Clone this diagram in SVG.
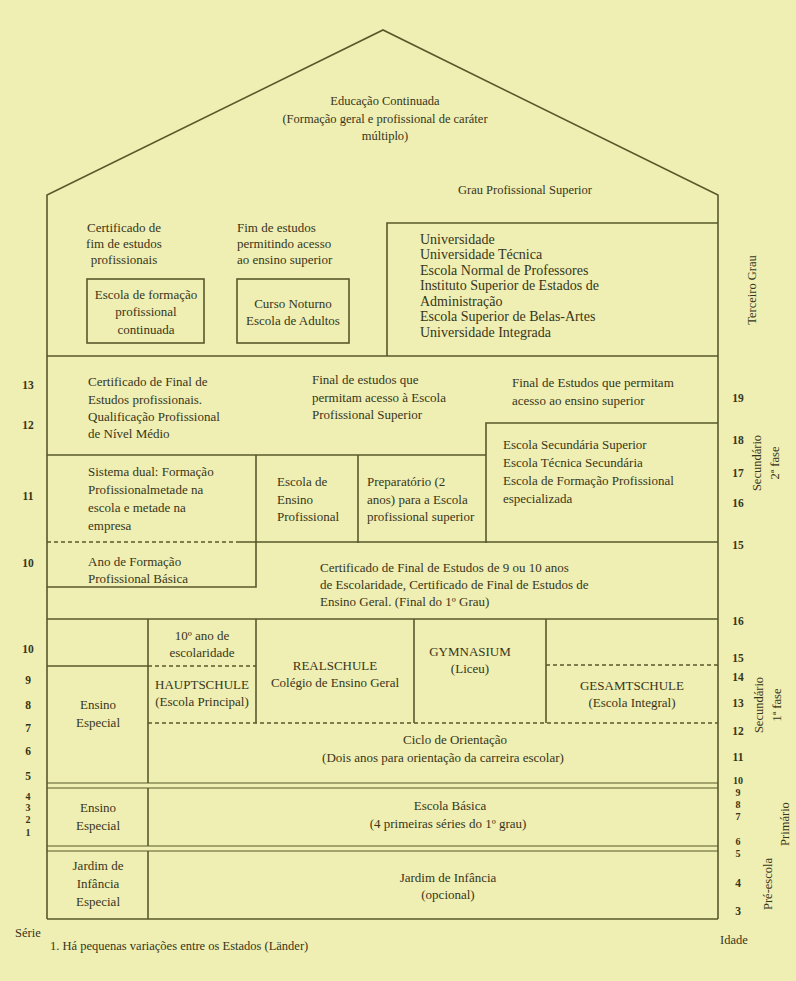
<svg xmlns="http://www.w3.org/2000/svg" width="796" height="981" viewBox="0 0 796 981">
<style>
.ln{stroke:#59582b;stroke-width:1.6;fill:none}
.th{stroke:#59582b;stroke-width:1.2;fill:none}
.ds{stroke:#59582b;stroke-width:1.3;fill:none;stroke-dasharray:4 3}
text{font-family:"Liberation Serif","Times New Roman",serif;fill:#37361a;font-size:13px}
.c{text-anchor:middle}
.n{font-size:11.5px;text-anchor:middle;font-weight:bold}
.m{font-size:10px}
.u{font-size:14px}
.s{font-size:12.5px}
</style>
<rect x="0" y="0" width="796" height="981" fill="#efeeb3"/>
<g id="structure">
<polyline class="ln" points="47,919 47,195 383,30 718,195 718,919"/>
<line class="ln" x1="47" y1="919" x2="718" y2="919"/>
<line class="ln" x1="47" y1="356" x2="718" y2="356"/>
<polyline class="ln" points="387,356 387,223 718,223"/>
<rect class="ln" x="87" y="279" width="117" height="64"/>
<rect class="ln" x="237" y="279" width="112" height="64"/>
<line class="ln" x1="47" y1="455" x2="486" y2="455"/>
<polyline class="ln" points="486,543 486,423 718,423"/>
<line class="ln" x1="256" y1="455" x2="256" y2="543"/>
<line class="ln" x1="358" y1="455" x2="358" y2="543"/>
<line class="ds" x1="47" y1="542" x2="238" y2="542"/>
<line class="ln" x1="238" y1="542" x2="718" y2="542"/>
<polyline class="ln" points="47,587 256,587 256,542"/>
<line class="ln" x1="47" y1="619" x2="718" y2="619"/>
<line class="ln" x1="148" y1="619" x2="148" y2="783"/>
<line class="ln" x1="256" y1="619" x2="256" y2="723"/>
<line class="ln" x1="414" y1="619" x2="414" y2="723"/>
<line class="ln" x1="546" y1="619" x2="546" y2="723"/>
<line class="ln" x1="47" y1="666" x2="148" y2="666"/>
<line class="ds" x1="148" y1="666" x2="256" y2="666"/>
<line class="ds" x1="546" y1="665" x2="718" y2="665"/>
<line class="ds" x1="148" y1="723" x2="718" y2="723"/>
<line class="th" x1="47" y1="783" x2="718" y2="783"/>
<line class="th" x1="47" y1="788" x2="718" y2="788"/>
<line class="ln" x1="148" y1="788" x2="148" y2="846"/>
<line class="th" x1="47" y1="846" x2="718" y2="846"/>
<line class="th" x1="47" y1="851" x2="718" y2="851"/>
<line class="ln" x1="148" y1="851" x2="148" y2="919"/>
</g>
<g id="educacao-continuada">
<text class="c s" x="385" y="105">Educação Continuada</text>
<text class="c s" x="385" y="123">(Formação geral e profissional de caráter</text>
<text class="c s" x="385" y="140">múltiplo)</text>
</g>
<g id="grau-superior"><text class="c s" x="525" y="194">Grau Profissional Superior</text></g>
<g id="cert-fim-prof">
<text class="c" x="124" y="232">Certificado de</text>
<text class="c" x="124" y="248">fim de estudos</text>
<text class="c" x="124" y="264">profissionais</text>
</g>
<g id="fim-estudos-sup">
<text x="237" y="232">Fim de estudos</text>
<text x="237" y="248">permitindo acesso</text>
<text x="237" y="264">ao ensino superior</text>
</g>
<g id="escola-formacao">
<text class="c" x="146" y="299">Escola de formação</text>
<text class="c" x="146" y="316">profissional</text>
<text class="c" x="146" y="334">continuada</text>
</g>
<g id="curso-noturno">
<text class="c" x="293" y="308">Curso Noturno</text>
<text class="c" x="293" y="325">Escola de Adultos</text>
</g>
<g id="universidade">
<text class="u" x="420" y="244">Universidade</text>
<text class="u" x="420" y="259">Universidade Técnica</text>
<text class="u" x="420" y="275">Escola Normal de Professores</text>
<text class="u" x="420" y="290">Instituto Superior de Estados de</text>
<text class="u" x="420" y="306">Administração</text>
<text class="u" x="420" y="321">Escola Superior de Belas-Artes</text>
<text class="u" x="420" y="337">Universidade Integrada</text>
</g>
<g id="cert-final-prof">
<text x="88" y="386">Certificado de Final de</text>
<text x="88" y="404">Estudos profissionais.</text>
<text x="88" y="421">Qualificação Profissional</text>
<text x="88" y="438">de Nível Médio</text>
</g>
<g id="final-estudos-escola">
<text x="312" y="384">Final de estudos que</text>
<text x="312" y="402">permitam acesso à Escola</text>
<text x="312" y="419">Profissional Superior</text>
</g>
<g id="final-estudos-ensino">
<text x="512" y="387">Final de Estudos que permitam</text>
<text x="512" y="405">acesso ao ensino superior</text>
</g>
<g id="escola-secundaria">
<text x="503" y="449">Escola Secundária Superior</text>
<text x="503" y="467">Escola Técnica Secundária</text>
<text x="503" y="485">Escola de Formação Profissional</text>
<text x="503" y="503">especializada</text>
</g>
<g id="sistema-dual">
<text x="88" y="476">Sistema dual: Formação</text>
<text x="88" y="494">Profissionalmetade na</text>
<text x="88" y="512">escola e metade na</text>
<text x="88" y="530">empresa</text>
</g>
<g id="ensino-profissional">
<text x="277" y="486">Escola de</text>
<text x="277" y="504">Ensino</text>
<text x="277" y="521">Profissional</text>
</g>
<g id="preparatorio">
<text x="367" y="486">Preparatório (2</text>
<text x="367" y="504">anos) para a Escola</text>
<text x="367" y="521">profissional superior</text>
</g>
<g id="ano-formacao">
<text x="88" y="566">Ano de Formação</text>
<text x="88" y="583">Profissional Básica</text>
</g>
<g id="cert-final-geral">
<text x="320" y="572">Certificado de Final de Estudos de 9 ou 10 anos</text>
<text x="320" y="589">de Escolaridade, Certificado de Final de Estudos de</text>
<text x="320" y="606">Ensino Geral. (Final do 1º Grau)</text>
</g>
<g id="decimo-ano">
<text class="c" x="202" y="640">10º ano de</text>
<text class="c" x="202" y="657">escolaridade</text>
</g>
<g id="hauptschule">
<text class="c" x="202" y="689">HAUPTSCHULE</text>
<text class="c" x="202" y="706">(Escola Principal)</text>
</g>
<g id="realschule">
<text class="c" x="335" y="670">REALSCHULE</text>
<text class="c" x="335" y="687">Colégio de Ensino Geral</text>
</g>
<g id="gymnasium">
<text class="c" x="470" y="656">GYMNASIUM</text>
<text class="c" x="470" y="673">(Liceu)</text>
</g>
<g id="gesamtschule">
<text class="c" x="632" y="690">GESAMTSCHULE</text>
<text class="c" x="632" y="707">(Escola Integral)</text>
</g>
<g id="ensino-especial-1">
<text class="c" x="98" y="709">Ensino</text>
<text class="c" x="98" y="727">Especial</text>
</g>
<g id="ciclo-orientacao">
<text class="c" x="455" y="744">Ciclo de Orientação</text>
<text class="c" x="443" y="762">(Dois anos para orientação da carreira escolar)</text>
</g>
<g id="ensino-especial-2">
<text class="c" x="98" y="812">Ensino</text>
<text class="c" x="98" y="830">Especial</text>
</g>
<g id="escola-basica">
<text class="c" x="450" y="810">Escola Básica</text>
<text class="c" x="448" y="828">(4 primeiras séries do 1º grau)</text>
</g>
<g id="jardim-especial">
<text class="c" x="98" y="870">Jardim de</text>
<text class="c" x="98" y="888">Infância</text>
<text class="c" x="98" y="906">Especial</text>
</g>
<g id="jardim">
<text class="c" x="448" y="882">Jardim de Infância</text>
<text class="c" x="448" y="899">(opcional)</text>
</g>
<g id="serie-axis">
<text class="n" x="28" y="389">13</text>
<text class="n" x="28" y="429">12</text>
<text class="n" x="28" y="500">11</text>
<text class="n" x="28" y="567">10</text>
<text class="n" x="28" y="653">10</text>
<text class="n" x="28" y="684">9</text>
<text class="n" x="28" y="709">8</text>
<text class="n" x="28" y="732">7</text>
<text class="n" x="28" y="755">6</text>
<text class="n" x="28" y="780">5</text>
<text class="n m" x="28" y="800">4</text>
<text class="n m" x="28" y="811">3</text>
<text class="n m" x="28" y="823">2</text>
<text class="n m" x="28" y="836">1</text>
<text x="15" y="937" class="s">Série</text>
</g>
<g id="idade-axis">
<text class="n" x="738" y="402">19</text>
<text class="n" x="738" y="444">18</text>
<text class="n" x="738" y="477">17</text>
<text class="n" x="738" y="507">16</text>
<text class="n" x="738" y="549">15</text>
<text class="n" x="738" y="625">16</text>
<text class="n" x="738" y="662">15</text>
<text class="n" x="738" y="681">14</text>
<text class="n" x="738" y="707">13</text>
<text class="n" x="738" y="735">12</text>
<text class="n" x="738" y="761">11</text>
<text class="n m" x="738" y="784">10</text>
<text class="n m" x="738" y="796">9</text>
<text class="n m" x="738" y="808">8</text>
<text class="n m" x="738" y="820">7</text>
<text class="n m" x="738" y="845">6</text>
<text class="n m" x="738" y="857">5</text>
<text class="n" x="738" y="887">4</text>
<text class="n" x="738" y="915">3</text>
<text x="720" y="944" class="s">Idade</text>
</g>
<g id="stage-labels">
<text class="c s" transform="translate(756,290) rotate(-90)">Terceiro Grau</text>
<text class="c s" transform="translate(761,463) rotate(-90)">Secundário</text>
<text class="c s" transform="translate(779,463) rotate(-90)">2ª fase</text>
<text class="c s" transform="translate(763,705) rotate(-90)">Secundário</text>
<text class="c s" transform="translate(781,705) rotate(-90)">1ª fase</text>
<text class="c s" transform="translate(789,824) rotate(-90)">Primário</text>
<text class="c s" transform="translate(772,884) rotate(-90)">Pré-escola</text>
</g>
<g id="footnote"><text x="50" y="950" class="s">1. Há pequenas variações entre os Estados (Länder)</text></g>
</svg>
